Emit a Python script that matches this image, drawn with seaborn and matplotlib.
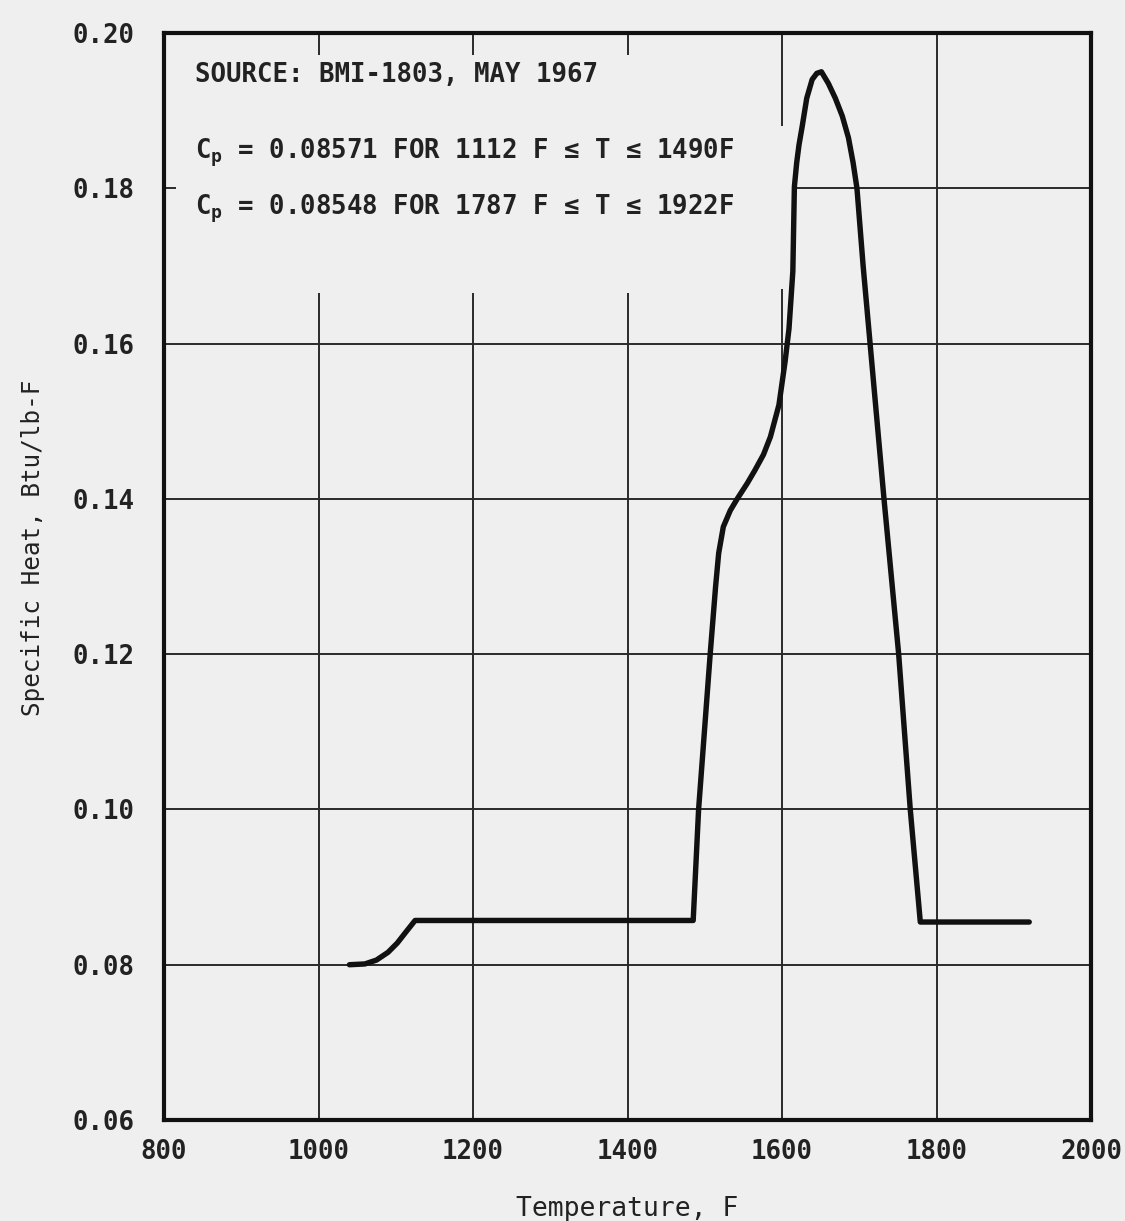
import matplotlib
matplotlib.use("Agg")
import matplotlib.pyplot as plt
import seaborn as sns
import pandas as pd

# ---- data ----
temperature_F = [1040, 1060, 1075, 1090, 1102, 1113, 1125, 1485, 1492, 1507,
                 1514, 1518, 1524, 1533, 1542, 1555, 1565, 1576, 1585, 1596,
                 1604, 1609, 1614, 1616, 1619, 1622, 1626, 1632, 1639, 1645,
                 1651, 1660, 1669, 1678, 1686, 1692, 1697, 1705, 1714, 1723,
                 1732, 1751, 1766, 1779, 1920]
specific_heat = [0.0800, 0.0801, 0.0806, 0.0816, 0.0828, 0.0842, 0.0857, 0.0857, 0.1000, 0.1200,
                 0.1287, 0.1330, 0.1364, 0.1385, 0.1400, 0.1420, 0.1437, 0.1457, 0.1480, 0.1521,
                 0.1577, 0.1619, 0.1693, 0.1802, 0.1833, 0.1856, 0.1879, 0.1916, 0.1940, 0.1948,
                 0.1950, 0.1935, 0.1916, 0.1893, 0.1865, 0.1833, 0.1800, 0.1700, 0.1600, 0.1500,
                 0.1400, 0.1200, 0.1000, 0.0855, 0.0855]

x_ticks = [800, 1000, 1200, 1400, 1600, 1800, 2000]
x_tick_labels = ["800", "1000", "1200", "1400", "1600", "1800", "2000"]
y_ticks = [0.06, 0.08, 0.10, 0.12, 0.14, 0.16, 0.18, 0.20]
y_tick_labels = ["0.06", "0.08", "0.10", "0.12", "0.14", "0.16", "0.18", "0.20"]

notes = [
    "SOURCE: BMI-1803, MAY 1967",
    r"C$_\mathregular{p}$ = 0.08571 FOR 1112 F ≤ T ≤ 1490F",
    r"C$_\mathregular{p}$ = 0.08548 FOR 1787 F ≤ T ≤ 1922F",
]

df = pd.DataFrame({"Temperature": temperature_F, "Cp": specific_heat})

sns.set_theme(style="white")
plt.rcParams["font.family"] = ["DejaVu Sans Mono", "DejaVu Sans"]
plt.rcParams["mathtext.fontset"] = "custom"
plt.rcParams["mathtext.rm"] = "DejaVu Sans Mono:bold"

bg = "#efefef"
fig = plt.figure(figsize=(11.25, 12.21), dpi=100, facecolor=bg)
ax = fig.add_axes([0.1458, 0.0827, 0.8240, 0.8903])
ax.set_facecolor(bg)

gc = "#2a2a2a"
glw = 1.4
# vertical grid lines (partially interrupted as in the reference)
for xv in [1000, 1200, 1400]:
    ax.vlines(xv, 0.06, 0.1665, color=gc, lw=glw, zorder=1)
    ax.vlines(xv, 0.1972, 0.20, color=gc, lw=glw, zorder=1)
ax.vlines(1600, 0.06, 0.167, color=gc, lw=glw, zorder=1)
ax.vlines(1600, 0.188, 0.20, color=gc, lw=glw, zorder=1)
ax.vlines(1800, 0.06, 0.20, color=gc, lw=glw, zorder=1)
# horizontal grid lines
for yv in [0.08, 0.10, 0.12, 0.14, 0.16]:
    ax.hlines(yv, 800, 2000, color=gc, lw=glw, zorder=1)
ax.hlines(0.18, 1618, 2000, color=gc, lw=glw, zorder=1)
ax.hlines(0.18, 800, 815, color=gc, lw=glw, zorder=1)

sns.lineplot(data=df, x="Temperature", y="Cp", ax=ax, color="#111111",
             lw=3.9, estimator=None, sort=False, zorder=3)

ax.set_xlim(800, 2000)
ax.set_ylim(0.06, 0.20)
ax.set_xticks(x_ticks)
ax.set_xticklabels(x_tick_labels)
ax.set_yticks(y_ticks)
ax.set_yticklabels(y_tick_labels)
ax.tick_params(axis="both", length=0, labelsize=18.5, colors="#222222")
ax.tick_params(axis="x", pad=14)
ax.tick_params(axis="y", pad=21)
for lab in ax.get_xticklabels() + ax.get_yticklabels():
    lab.set_fontweight("bold")

ax.set_xlabel("Temperature, F", fontsize=19, color="#222222")
ax.set_ylabel("Specific Heat, Btu/lb-F", fontsize=17.5, color="#222222")
ax.xaxis.set_label_coords(0.5, -0.070)
ax.yaxis.set_label_coords(-0.128, 0.526)

for s in ax.spines.values():
    s.set_visible(True)
    s.set_color("#111111")
    s.set_linewidth(3.0)

note_y = [0.1946, 0.1845, 0.1774]
for txt, yy in zip(notes, note_y):
    ax.text(840, yy, txt, fontsize=18.5, fontweight="bold", color="#222222",
            va="center", ha="left", zorder=4)

fig.savefig("out.png", dpi=100, facecolor=bg)
